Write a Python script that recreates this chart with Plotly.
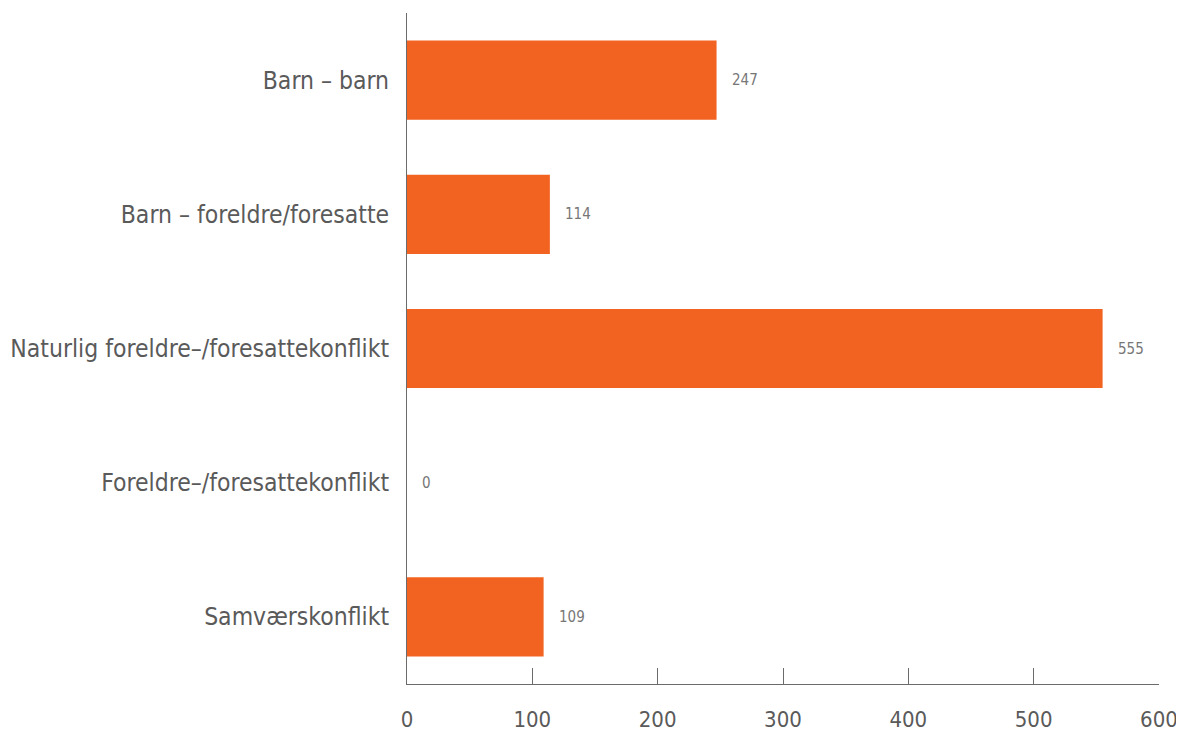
import plotly.graph_objects as go

categories = ["Barn – barn", "Barn – foreldre/foresatte",
              "Naturlig foreldre–/foresattekonflikt",
              "Foreldre–/foresattekonflikt", "Samværskonflikt"]
values = [247, 114, 555, 0, 109]
x_ticks = [0, 100, 200, 300, 400, 500, 600]

BAR = "#F26322"
AX = "#6b6b6b"
TXT = "#5a5a5a"
FONT = "Liberation Sans Narrow, DejaVu Sans Condensed, sans-serif"

fig = go.Figure(go.Bar(
    x=values, y=categories, orientation="h",
    marker=dict(color=BAR, line=dict(width=0)),
    width=0.59, hoverinfo="skip",
))

for v, c in zip(values, categories):
    fig.add_annotation(x=v, y=c, text=str(v), showarrow=False,
                       xanchor="left", yanchor="middle", xshift=13,
                       font=dict(family=FONT, size=15, color="#777777"))

fig.update_layout(
    width=1184, height=731,
    margin=dict(l=399, r=33, t=5, b=55, autoexpand=False),
    plot_bgcolor="white", paper_bgcolor="white",
    showlegend=False,
    font=dict(family=FONT, color=TXT),
    xaxis=dict(range=[0, 600], tickvals=x_ticks, ticks="inside", ticklen=16,
               tickcolor=AX, tickwidth=1, showline=True, linecolor=AX,
               linewidth=1, showgrid=False, zeroline=False, automargin=False,
               tickfont=dict(size=22, color=TXT), ticklabelstandoff=16),
    yaxis=dict(categoryorder="array", categoryarray=categories,
               autorange="reversed", showline=True, linecolor=AX, linewidth=1,
               ticks="", showgrid=False, zeroline=False, automargin=False,
               tickfont=dict(size=24.5, color=TXT), ticklabelstandoff=12),
)

fig.write_html("out.html")
